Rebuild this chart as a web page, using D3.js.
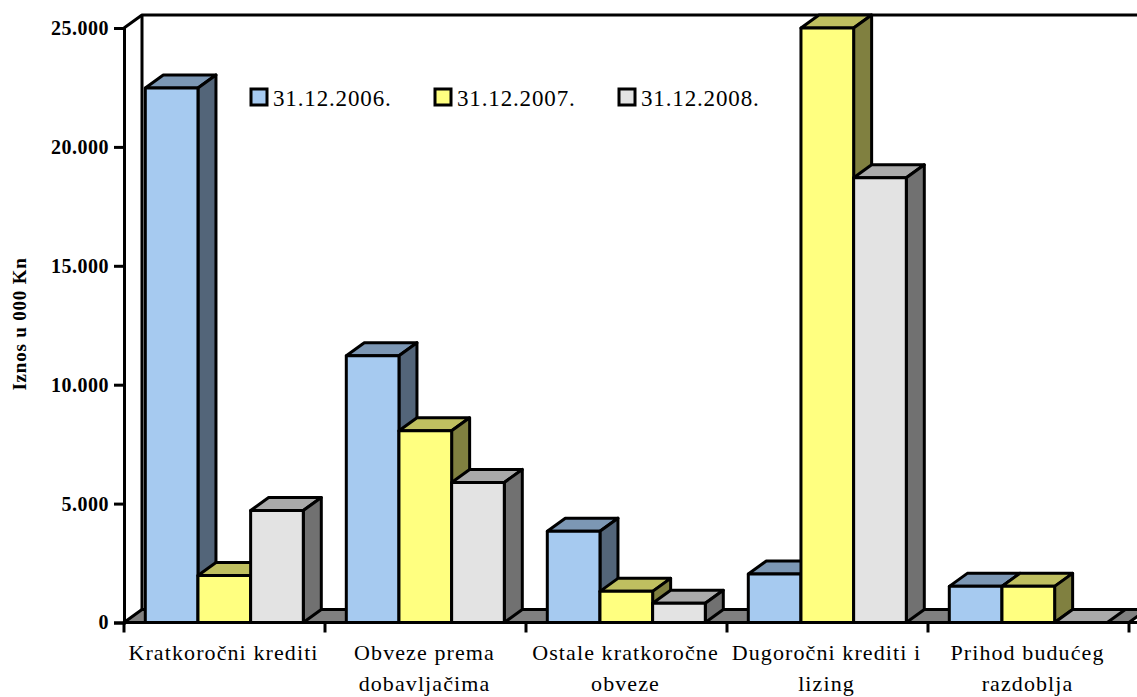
<!DOCTYPE html>
<html><head><meta charset="utf-8">
<script src="https://cdn.jsdelivr.net/npm/d3@7/dist/d3.min.js"></script>
<style>html,body{margin:0;padding:0;background:#fff;overflow:hidden}svg{display:block}</style>
</head><body><div id="c"></div>
<script>
const categories = ["Kratkoročni krediti","Obveze prema dobavljačima","Ostale kratkoročne obveze","Dugoročni krediti i lizing","Prihod budućeg razdoblja"];
const labelLines = [["Kratkoročni krediti"],["Obveze prema","dobavljačima"],["Ostale kratkoročne","obveze"],["Dugoročni krediti i","lizing"],["Prihod budućeg","razdoblja"]];
const seriesNames = ["31.12.2006.","31.12.2007.","31.12.2008."];
const values2006 = [22480,11220,3840,2040,1520];
const values2007 = [1980,8060,1310,25000,1520];
const values2008 = [4710,5890,810,18700,0];
const seriesValues = [values2006,values2007,values2008];
const yTicks = [0,5000,10000,15000,20000,25000];
const frontColors = ["#A6CAF0","#FFFF80","#E3E3E3"];
const topColors = ["#7C97B4","#BFBF60","#AAAAAA"];
const sideColors = ["#536579","#808040","#717171"];
const floorColor = "#808080";

const W=1137,H=697, dx=18, dy=-13, sw=3;
const svg=d3.select("#c").append("svg").attr("width",W).attr("height",H);
const y=d3.scaleLinear().domain([0,25000]).range([622.5,28]);
const x0=d3.scaleBand().domain(categories).range([124,1129]);
const x1=d3.scaleBand().domain(seriesNames).range([21.3,179.3]);
const line=d3.line();
const poly=(pts,fill)=>svg.append("path").attr("d",line(pts)+"Z").attr("fill",fill).attr("stroke","#000").attr("stroke-width",sw).attr("stroke-linejoin","round");
const L=124,R=1129,Y0=y(0),Yt=y(25000);

// walls
svg.append("path").attr("d",line([[L,Yt],[L+dx,Yt+dy],[1137,Yt+dy]])).attr("fill","none").attr("stroke","#000").attr("stroke-width",sw).attr("stroke-linejoin","round");
svg.append("path").attr("d",line([[L+dx,Yt+dy],[L+dx,Y0+dy]])).attr("fill","none").attr("stroke","#000").attr("stroke-width",sw);
// floor
poly([[L,Y0],[L+dx,Y0+dy],[R+dx,Y0+dy],[R,Y0]],floorColor);

// bars
categories.forEach((c,i)=>{
  seriesNames.forEach((s,j)=>{
    const v=seriesValues[j][i];
    const a=x0(c)+x1(s), b=a+x1.bandwidth(), t=y(v);
    poly([[a,t],[a+dx,t+dy],[b+dx,t+dy],[b,t]],topColors[j]);
    if(v>0){
      poly([[b,t],[b+dx,t+dy],[b+dx,Y0+dy],[b,Y0]],sideColors[j]);
      poly([[a,t],[b,t],[b,Y0],[a,Y0]],frontColors[j]);
    }
  });
});

// y axis
const yAxis=d3.axisLeft(y).tickValues(yTicks).tickSize(10).tickPadding(5).tickFormat(d=>d===0?"0":d3.format(",")(d).replace(",","."));
const gy=svg.append("g").attr("transform",`translate(${L},0)`).call(yAxis);
gy.selectAll("path").attr("stroke","#000").attr("stroke-width",sw);
gy.selectAll("line").attr("stroke","#000").attr("stroke-width",sw);
gy.selectAll("text").attr("font-family","'Liberation Serif'").attr("font-weight","bold").attr("font-size",20).attr("letter-spacing",0.5).attr("fill","#000");

// x axis
const xAxisLine=svg.append("g");
xAxisLine.append("line").attr("x1",L).attr("x2",R+8).attr("y1",Y0).attr("y2",Y0).attr("stroke","#000").attr("stroke-width",sw);
[...categories.map(c=>x0(c)),R].forEach(px=>{
  xAxisLine.append("line").attr("x1",px).attr("x2",px).attr("y1",Y0).attr("y2",Y0+10).attr("stroke","#000").attr("stroke-width",sw);
});
categories.forEach((c,i)=>{
  labelLines[i].forEach((t,k)=>{
    svg.append("text").attr("x",x0(c)+x0.bandwidth()/2-1).attr("y",660+k*30.5).attr("text-anchor","middle")
      .attr("font-family","'Liberation Serif'").attr("font-size",22).attr("letter-spacing",1.1).attr("fill","#000").text(t);
  });
});

// y title
svg.append("text").attr("transform","translate(26,324) rotate(-90)").attr("text-anchor","middle")
  .attr("font-family","'Liberation Serif'").attr("font-weight","bold").attr("font-size",19).attr("letter-spacing",0.8).attr("fill","#000").text("Iznos u 000 Kn");

// legend
const legX=d3.scalePoint().domain(seriesNames).range([251,619]);
seriesNames.forEach((s,j)=>{
  svg.append("rect").attr("x",legX(s)).attr("y",89).attr("width",16).attr("height",16).attr("fill",frontColors[j]).attr("stroke","#000").attr("stroke-width",sw);
  svg.append("text").attr("x",legX(s)+22).attr("y",106).attr("font-family","'Liberation Serif'").attr("font-size",23).attr("letter-spacing",0.85).attr("fill","#000").text(s);
});
</script></body></html>
